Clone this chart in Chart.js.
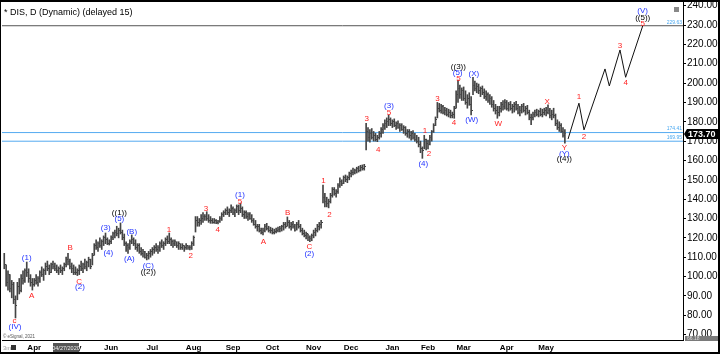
<!DOCTYPE html>
<html>
<head>
<meta charset="utf-8">
<script src="https://cdn.jsdelivr.net/npm/chart.js@4.4.0/dist/chart.umd.min.js"></script>
<style>
html, body { margin: 0; padding: 0; background: #fff; }
#wrap { position: relative; width: 720px; height: 354px; }
</style>
</head>
<body>
<div id="wrap"><canvas id="chart" width="720" height="354"></canvas></div>
<script>
// Daily bars, one entry per trading day (index 0 = first bar)
const highs = [
  112,106,103,101,98,97,90,
  97,99,101,103,104,107.5,104,101,99,
  99,101,100,103,105,104,107,108,106,107,108,107,106,105,106,105,107,110,112,
  109,107,106,105,104,
  106,108,107,109,108,110,109,112,117,119,118,120,119,121,122.5,120,119,
  121,123,124,126,125,127.7,
  124,122,118,117,119,121.5,
  120,119,117,117,115,114,113,112,
  113,114,115,116,117,116,118,119,118,120,121,122.5,
  120,119,119,118,118,117,117,116,117,116,116,118,
  121,131,131,130,132,133,132,133.5,
  132,131,130,130,129.5,129,
  131,133,134,135,136,135,137,136,135,137,137,138,
  136,134,134,133,133,132,130,129,127,127,125,125,
  127,127.5,126,125.5,125,124.5,125,125.5,126,126.5,128,128,130.8,
  129,128,128.5,127,128,129,127,125,124,123,122,121,
  122,124,125,127,128,129,147.3,143,141,140,
  143,146,146,145,148,151,150,152,152.5,152,154,155,156,155.5,156.5,157,157.5,157.7,
  158,179.2,177,176,176.5,175,174,173,
  175,177,179,181,182,183.5,
  182,181,181.5,180,180.5,179,179,178,177.5,176,176,175,175.5,174,173,172,170,167,173,171,170.5,
  173,175.5,179,182.5,190,189.5,189,188.5,187.5,187,186.5,186,185,188,196,201.6,
  199,197.5,198,196,194,195,193,203,
  201,200,199.5,198,198.5,197,196,195,194,193,191,189,188,
  188,190,191,191.5,191,190,190.5,189,190,190.5,189,188,189,189.5,188,188.5,186,184,185,186,186.5,186,187,186.5,187,187.5,188.7,
  187,186,187,184,181,180,179,177,176
];
const lows = [
  104,95,93,92,89,86,78.6,
  88,91,92,96,97,100,97,95,93,
  95,96,95,97,100,98,101,103,101,102,104,103,102,101,102,101,103,105,106,
  104,102,101,101,100.5,
  101,103,102,104,103,105,104,106,111,114,113,115,114,116,117,116.5,116.3,
  117,119,120,121,120,122,
  119,116,113,112,114,117,
  116,114,113,112,111,110,109.5,108.6,
  109,110,111,112,113,112,113,115,114,116,117,117,
  116,115,116,115,114,114,114,113,114,114,113.7,114,
  116,123,126,126,127,128,129,129,
  128,127.5,127.5,127.5,127.3,127.2,
  128,129,131,132,132,131,133,132,131,133,132,133,
  131,130,130,129,129.5,128,126.5,125,123.5,123,122,121.5,
  123,124,123,122.5,122,122,122.5,123,123,123.5,124,125,126,
  125,124,125,123.5,124,125,123,121.5,120.5,119.5,118.5,118,
  118.5,120,121,123,124,125,138,136,136,135.5,
  138,141,142,141,143,146,147,148,149,148.5,150,151.5,152.5,153,153.5,154,154.5,155,
  155,165.4,170,169.5,171,170,170,169.7,
  171,172,174,176,177,178,
  178,177,177.5,176,176.5,175,175.5,174,173,172,171.5,170.5,171,170,169,167,164,161.1,166,165.5,166,
  168,170,174.5,178,182,185,184.5,184,183.5,183,182.5,182,182,181.8,187,190,
  192,191,191,189,187,188.5,183.5,194,
  196,195,194.5,193,194,192,191,190,189,187.5,185.5,184,181.8,
  183,185,186,186.5,186,185.5,186,184.5,185,186,184,183,184.5,185,183.5,184,181,178.5,181,182.5,183,182.5,183,182.5,183.5,183,184,
  182,181,182,178,176,175,174.5,172,168.9
];
const closes = [
  106,97,101,94,96,88,85,
  95,93,99,98,103,102,99,97,96,
  98,97,99,102,101,103,105,104,102,106,105,104,103,104,103,104,106,109,108,
  105,104,102,102,103,
  105,104,106,105,107,109,105,111,116,115,117,116,118,120,119,117,118,
  120,122,123,122,124,123,
  120,117,116,115,118,119,
  117,115,116,113,112,113,110,111,
  112,113,114,115,114,115,117,116,117,119,118,119,
  118,117,118,116,117,115,116,115,116,115,115,117,
  120,129,128,129,130,131,131,130,
  129,129,128,129,128,128.5,
  130,132,133,134,133,134,135,133,134,136,134,135,
  132,133,131,132,130,129,127,126,126,124,123,124,
  126,125,124,124,123,123.5,124,124.5,125,126,127,126,128,
  126,127,126,124,127,126,124,122,121,122,120,119.5,
  121,123,124,126,127,128,141,139,138,139,
  142,145,143,144,147,149,148,151,150,151,153,154,154,155,156,155,156.5,156,
  157,175,172,174,172,173,171,172,
  174,176,178,179,180,181,
  179,180,178,179,177,178,176,177,174,175,173,174,172,171,170,168,166,165,171,169,168,
  172,175,178,181,187,186,188,185,186,184,185,183,184,187,194,197,
  194,196,192,190,192,189,186,199,
  197,198,196,197,195,193,194,191,192,189,187,186,185,
  187,189,188,190,187,189,187,188,189,187,185,186,188,186,187,185,182,182,184,185,184,185.5,184,185,186,185,186,
  183,184,183,179,177,178,175,173,173.7
];

// Month ticks (trading-day index) and labels
const monthIdx = [16, 37, 57, 79, 101, 122, 143, 165, 185, 207, 226, 245, 268, 289];
const monthNames = ['Apr','May','Jun','Jul','Aug','Sep','Oct','Nov','Dec','Jan','Feb','Mar','Apr','May'];
const priceTicks = [70,80,90,100,110,120,130,140,150,160,170,180,190,200,210,220,230,240];

// Projected wave path
const projIdx = [300.7, 306.5, 309.2, 320.4, 322.7, 328.4, 331.4, 340.5];
const projPrice = [171.1, 189.6, 175.8, 207.3, 198.5, 217.1, 203, 229.5];

// Horizontal levels
const levelPrices = [229.63, 174.41, 169.95];

// Wave labels: text, bar index, price, colour key
const waveLabels = [
  ['c',5.4,77.2,'r'], ['(IV)',5.7,73.8,'b'],
  ['(1)',12,109.5,'b'], ['A',14.6,90.1,'r'], ['B',35.1,114.6,'r'],
  ['C',40,97.4,'r'], ['(2)',40.4,94.5,'b'],
  ['(3)',54.1,125,'b'], ['(4)',55.5,112.4,'b'],
  ['((1))',61.4,133,'k'], ['(5)',61.4,129.8,'b'],
  ['(A)',66.7,109.1,'b'], ['(B)',68,123.2,'b'],
  ['(C)',76.8,105.8,'b'], ['((2))',76.8,102.5,'k'],
  ['1',87.9,124.1,'r'], ['2',99.4,110.8,'r'], ['3',107.6,134.8,'r'], ['4',113.8,124.1,'r'],
  ['(1)',125.7,142.2,'b'], ['5',125.7,138.7,'r'],
  ['A',138.2,118,'r'], ['B',151.2,132.7,'r'], ['C',162.7,115.5,'r'], ['(2)',162.7,111.7,'b'],
  ['1',170.2,149.4,'r'], ['2',173.4,131.8,'r'],
  ['3',193.3,181.3,'r'], ['4',199.5,165.4,'r'],
  ['(3)',205.2,188.2,'b'], ['5',205.2,184.7,'r'],
  ['1',224.4,175.4,'r'], ['2',226.5,163.2,'r'], ['(4)',223.5,158.2,'b'],
  ['3',231,192.1,'r'], ['4',239.9,179.5,'r'],
  ['((3))',242.2,208.5,'k'], ['(5)',241.8,205.1,'b'], ['5',242.2,202.1,'r'],
  ['(W)',249.3,180.9,'b'], ['(X)',250.5,204.7,'b'],
  ['W',263.5,178.9,'r'], ['X',289.6,190.4,'r'],
  ['Y',298.7,166.8,'r'], ['(Y)',298.7,163.7,'b'], ['((4))',298.7,160.8,'k'],
  ['1',306.5,192.7,'r'], ['2',309.2,172.3,'r'], ['3',328.4,219.2,'r'], ['4',331.4,199.9,'r'],
  ['5',340.5,230.5,'r'], ['((5))',340.5,233.5,'k'], ['(V)',340.5,237.3,'b']
];
const waveColors = { r: '#ff2222', b: '#2233ff', k: '#000000' };

const FONT = '"Liberation Sans", Arial, sans-serif';
const X_MIN = -1.2, X_MAX = 362;

// small image used as the close tick (sticks out to the right)
const tickImg = document.createElement('canvas');
tickImg.width = 3; tickImg.height = 1;
const tctx = tickImg.getContext('2d');
tctx.fillStyle = '#444';
tctx.fillRect(2, 0, 1, 1);

const overlay = {
  id: 'overlay',
  beforeDraw(chart) {
    const ctx = chart.ctx;
    ctx.save();
    ctx.fillStyle = '#fff';
    ctx.fillRect(0, 0, chart.width, chart.height);
    ctx.restore();
  },
  afterDatasetsDraw(chart) {
    const { ctx, scales: { x, y }, chartArea } = chart;
    ctx.save();
    // level captions
    ctx.font = '5px ' + FONT;
    ctx.textAlign = 'right';
    ctx.textBaseline = 'bottom';
    ctx.fillStyle = '#4aa8f0';
    levelPrices.forEach(p => {
      ctx.fillText(p.toFixed(2), chartArea.right - 1, y.getPixelForValue(p) - 1);
    });
    // wave labels
    ctx.font = '8px ' + FONT;
    ctx.textAlign = 'center';
    ctx.textBaseline = 'middle';
    waveLabels.forEach(([t, i, p, k]) => {
      ctx.fillStyle = waveColors[k];
      ctx.fillText(t, x.getPixelForValue(i), y.getPixelForValue(p));
    });
    ctx.restore();
  },
  afterDraw(chart) {
    const { ctx, scales: { x, y }, chartArea } = chart;
    ctx.save();
    // month labels under the time axis
    ctx.fillStyle = '#000';
    ctx.font = 'bold 8px ' + FONT;
    ctx.textAlign = 'center';
    ctx.textBaseline = 'middle';
    monthIdx.forEach((m, k) => {
      ctx.fillText(monthNames[k], x.getPixelForValue(m), chartArea.bottom + 8);
    });
    // title
    ctx.font = '9px ' + FONT;
    ctx.textAlign = 'left';
    ctx.textBaseline = 'alphabetic';
    ctx.fillText('* DIS, D (Dynamic) (delayed 15)', 4, 15);
    // small box top right
    ctx.fillStyle = '#888';
    ctx.fillRect(674, 7, 5, 5);
    // last price marker
    const last = closes[closes.length - 1];
    const py = Math.round(y.getPixelForValue(last));
    ctx.fillStyle = '#000';
    ctx.beginPath();
    ctx.moveTo(chartArea.right + 1, py);
    ctx.lineTo(chartArea.right + 4, py - 5);
    ctx.lineTo(720, py - 5);
    ctx.lineTo(720, py + 5);
    ctx.lineTo(chartArea.right + 4, py + 5);
    ctx.closePath();
    ctx.fill();
    ctx.fillStyle = '#fff';
    ctx.font = 'bold 9px ' + FONT;
    ctx.textBaseline = 'middle';
    ctx.fillText(last.toFixed(2), chartArea.right + 5, py + 0.5);
    // bottom-right grey value box
    ctx.fillStyle = '#7a7a7a';
    ctx.fillRect(685, 336, 34, 5);
    ctx.fillStyle = '#ddd';
    ctx.font = '5px ' + FONT;
    ctx.fillText('66.18', 687, 338.5);
    // copyright
    ctx.fillStyle = '#555';
    ctx.font = '4.5px ' + FONT;
    ctx.textBaseline = 'alphabetic';
    ctx.fillText('\u00a9 eSignal, 2021', 3, 338);
    // cursor date box
    ctx.fillStyle = '#555';
    ctx.fillRect(53, 343, 26, 9);
    ctx.fillStyle = '#eee';
    ctx.font = '5.5px ' + FONT;
    ctx.textAlign = 'center';
    ctx.textBaseline = 'middle';
    ctx.fillText('04/27/2020', 66, 348);
    // bottom-left icon
    ctx.fillStyle = '#999';
    ctx.font = '6px ' + FONT;
    ctx.textAlign = 'left';
    ctx.fillText('3m', 3, 348);
    ctx.fillStyle = '#333';
    ctx.fillRect(11, 345, 5, 5);
    // frame
    ctx.fillStyle = '#000';
    ctx.fillRect(0, 0, 720, 2);
    ctx.fillRect(0, 0, 1, 354);
    ctx.fillRect(718, 0, 2, 354);
    ctx.fillRect(0, 352, 720, 2);
    ctx.restore();
  }
};

const barData = highs.map((h, i) => ({ x: i, y: [lows[i], h] }));
const closeData = closes.map((c, i) => ({ x: i, y: c }));
const projData = projIdx.map((v, i) => ({ x: v, y: projPrice[i] }));

const levelSets = levelPrices.map((p, k) => ({
  type: 'line',
  data: [{ x: X_MIN, y: p }, { x: X_MAX, y: p }],
  borderColor: k === 0 ? '#555555' : '#55aaf0',
  borderWidth: 1,
  pointRadius: 0,
  order: 5
}));

new Chart(document.getElementById('chart'), {
  type: 'bar',
  data: {
    datasets: [
      ...levelSets,
      {
        type: 'bar',
        data: barData,
        backgroundColor: '#444',
        barThickness: 1,
        order: 3
      },
      {
        type: 'scatter',
        data: closeData,
        pointStyle: tickImg,
        order: 2
      },
      {
        type: 'line',
        data: projData,
        borderColor: '#111',
        borderWidth: 1,
        pointRadius: 0,
        tension: 0,
        order: 1
      }
    ]
  },
  options: {
    responsive: false,
    animation: false,
    events: [],
    layout: { autoPadding: false, padding: { left: 2, top: 2, right: 0, bottom: 0 } },
    plugins: { legend: { display: false }, tooltip: { enabled: false } },
    scales: {
      x: {
        type: 'linear',
        min: X_MIN,
        max: X_MAX,
        offset: false,
        grid: { display: false },
        border: { display: true, color: '#000', width: 1 },
        ticks: { display: false },
        afterFit: s => { s.height = 14; s.paddingLeft = 0; s.paddingRight = 0; }
      },
      y: {
        type: 'linear',
        position: 'right',
        min: 67.2,
        max: 241.9,
        beginAtZero: false,
        grid: { drawOnChartArea: false, drawTicks: true, tickLength: 3, color: '#000' },
        border: { display: true, color: '#000', width: 1 },
        afterBuildTicks: s => { s.ticks = priceTicks.map(v => ({ value: v })); },
        afterFit: s => { s.width = 37; s.paddingTop = 0; s.paddingBottom = 0; },
        ticks: {
          padding: 1,
          color: '#000',
          font: { family: FONT, size: 10 },
          callback: v => v.toFixed(2)
        }
      }
    }
  },
  plugins: [overlay]
});
</script>
</body>
</html>
